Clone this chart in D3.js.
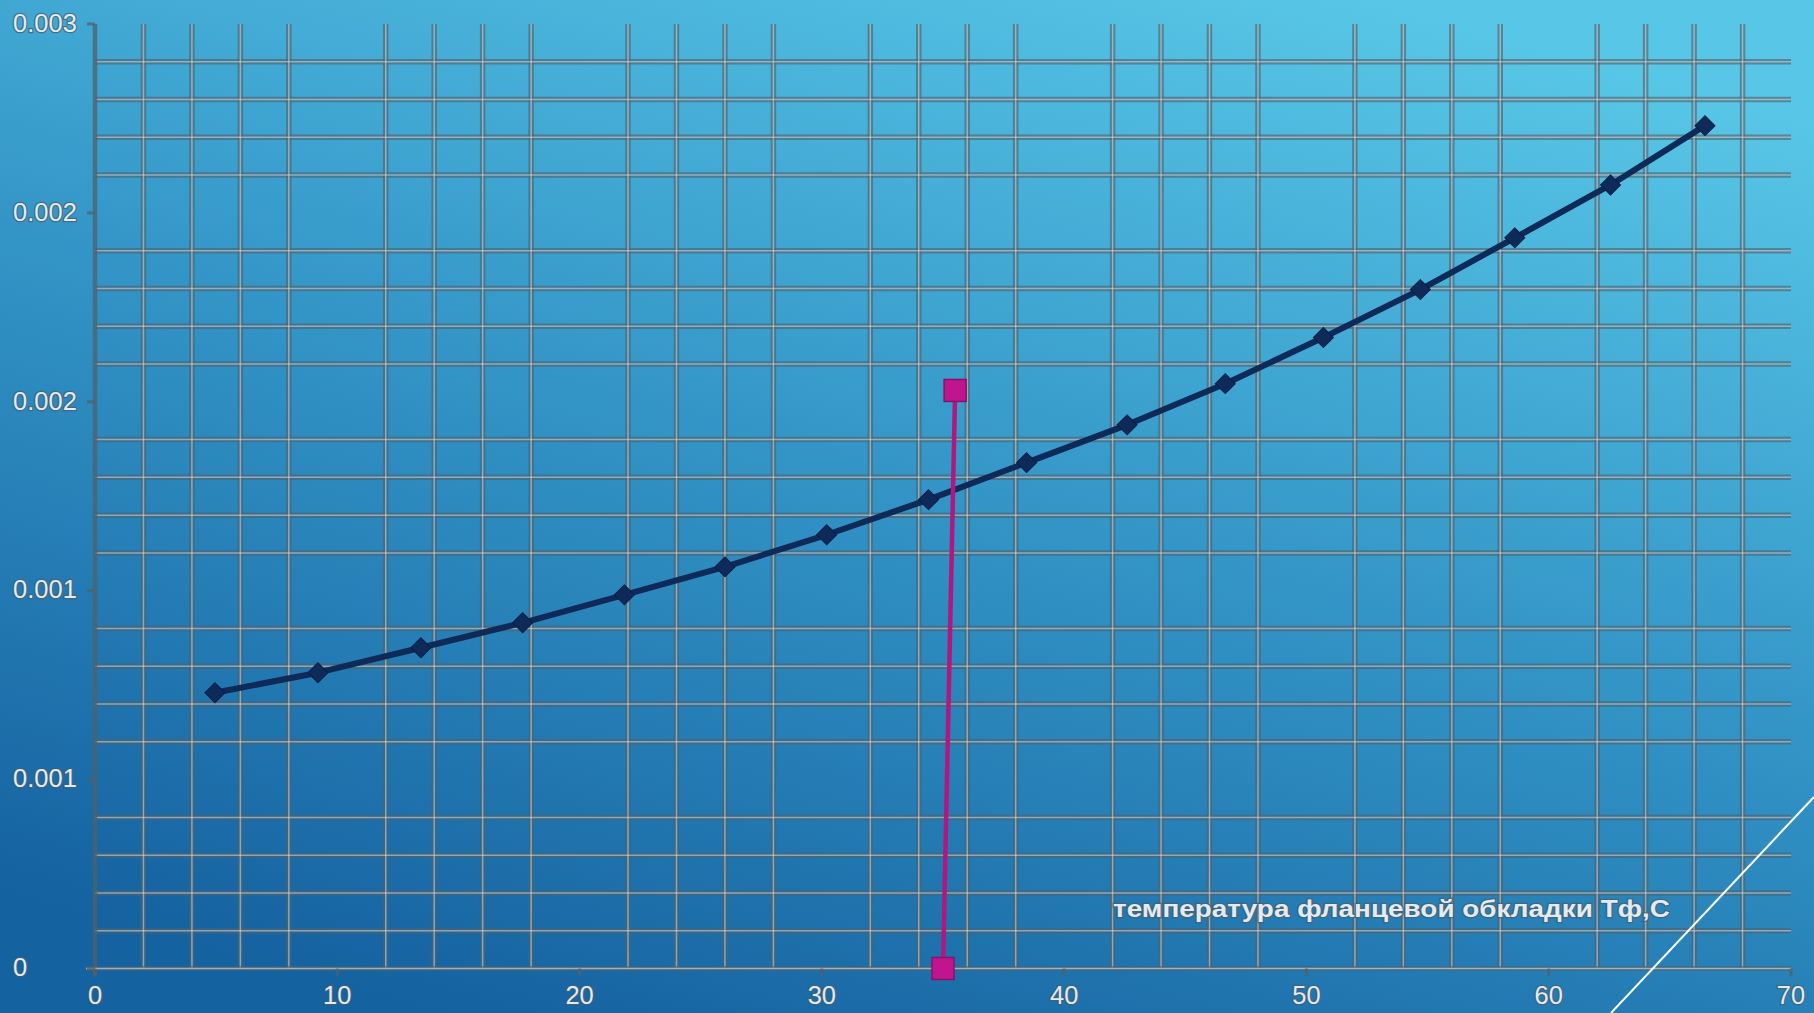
<!DOCTYPE html>
<html>
<head>
<meta charset="utf-8">
<script src="https://cdn.jsdelivr.net/npm/d3@7"></script>
<style>
  html, body { margin: 0; padding: 0; overflow: hidden; }
  svg { display: block; }
  .tick-label { font-family: "Liberation Sans", Arial, sans-serif; font-size: 25.5px; fill: #e4eaee; stroke: rgba(70,95,110,0.75); stroke-width: 2.5px; paint-order: stroke; }
</style>
</head>
<body>
<div id="chart"></div>
<script>
// Data
const temps = [4.95, 9.2, 13.45, 17.65, 21.85, 26.0, 30.2, 34.4, 38.45, 42.6, 46.65, 50.7, 54.7, 58.6, 62.55, 66.45];
const strain = [0.00073, 0.000783, 0.000849, 0.000915, 0.000989, 0.001063, 0.001148, 0.001241, 0.001339, 0.001439, 0.001548, 0.00167, 0.001797, 0.001934, 0.002074, 0.002231];
const markX = [35.0, 35.5];
const markY = [0, 0.00153];
const xTicks = [0, 10, 20, 30, 40, 50, 60, 70];
const yTicks = [0, 0.0005, 0.001, 0.0015, 0.002, 0.0025];
const yTickLabels = ["0", "0.001", "0.001", "0.002", "0.002", "0.003"];
const axisTitle = "температура фланцевой обкладки Тф,С";

const W = 1814, H = 1013;
const margin = {top: 24, right: 23, bottom: 44.5, left: 95};

const svg = d3.select("#chart").append("svg")
  .attr("width", W)
  .attr("height", H);

// Background gradient (slide)
const defs = svg.append("defs");
const grad = defs.append("linearGradient")
  .attr("id", "bg")
  .attr("x1", "0.75").attr("y1", "0")
  .attr("x2", "0.25").attr("y2", "1");
grad.append("stop").attr("offset", "0").attr("stop-color", "#58c6e6");
grad.append("stop").attr("offset", "0.45").attr("stop-color", "#3598c9");
grad.append("stop").attr("offset", "1").attr("stop-color", "#1562a0");
svg.append("rect").attr("width", W).attr("height", H).attr("fill", "url(#bg)");

// Scales
const x = d3.scaleLinear().domain([0, 70]).range([margin.left, W - margin.right]);
const y = d3.scaleLinear().domain([0, 0.0025]).range([H - margin.bottom, margin.top]);

// Minor gridlines only (major positions are left empty)
const xMinor = d3.range(2, 70, 2).filter(v => v % 10 !== 0);
const yMinor = d3.range(1, 25).filter(i => i % 5 !== 0).map(i => i * 0.0001);

const grid = svg.append("g");
function gridLines(width, color) {
  grid.append("g").selectAll("line")
    .data(xMinor).join("line")
    .attr("x1", d => x(d)).attr("x2", d => x(d))
    .attr("y1", y(0.0025)).attr("y2", y(0))
    .attr("stroke", color).attr("stroke-width", width);
  grid.append("g").selectAll("line")
    .data(yMinor).join("line")
    .attr("x1", x(0)).attr("x2", x(70))
    .attr("y1", d => y(d)).attr("y2", d => y(d))
    .attr("stroke", color).attr("stroke-width", width);
}
gridLines(5.5, "rgba(78,98,110,0.62)");
gridLines(1.5, "rgba(225,230,233,0.5)");

// Axes
const axisColor = "rgba(78,98,110,0.75)";
svg.append("line")
  .attr("x1", x(0)).attr("x2", x(0))
  .attr("y1", y(0.0025)).attr("y2", y(0) + 8)
  .attr("stroke", axisColor).attr("stroke-width", 4.5);
svg.append("line")
  .attr("x1", x(0) - 9).attr("x2", x(70))
  .attr("y1", y(0)).attr("y2", y(0))
  .attr("stroke", axisColor).attr("stroke-width", 4.5);
svg.append("line")
  .attr("x1", x(0) - 9).attr("x2", x(70))
  .attr("y1", y(0)).attr("y2", y(0))
  .attr("stroke", "rgba(225,230,233,0.6)").attr("stroke-width", 1.5);

svg.append("g").selectAll("line")
  .data(xTicks).join("line")
  .attr("x1", d => x(d)).attr("x2", d => x(d))
  .attr("y1", y(0)).attr("y2", y(0) + 8)
  .attr("stroke", axisColor).attr("stroke-width", 3);
svg.append("g").selectAll("line")
  .data(yTicks).join("line")
  .attr("x1", x(0) - 8).attr("x2", x(0))
  .attr("y1", d => y(d)).attr("y2", d => y(d))
  .attr("stroke", axisColor).attr("stroke-width", 3);

// Tick labels
svg.append("g").selectAll("text")
  .data(xTicks).join("text")
  .attr("class", "tick-label")
  .attr("x", d => x(d))
  .attr("y", y(0) + 29)
  .attr("dominant-baseline", "middle")
  .attr("text-anchor", "middle")
  .text(d => d);
svg.append("g").selectAll("text")
  .data(yTicks).join("text")
  .attr("class", "tick-label")
  .attr("x", 13)
  .attr("y", d => y(d) + 1)
  .attr("dominant-baseline", "middle")
  .attr("text-anchor", "start")
  .text((d, i) => yTickLabels[i]);

// Axis title inside the plot
svg.append("text")
  .attr("class", "tick-label")
  .attr("x", 1113)
  .attr("y", 911)
  .attr("dominant-baseline", "middle")
  .attr("textLength", 557)
  .attr("lengthAdjust", "spacingAndGlyphs")
  .style("font-size", "24px")
  .style("font-weight", "bold")
  .text(axisTitle);

// Main series
const pts = temps.map((t, i) => ({x: t, y: strain[i]}));
const line = d3.line().x(d => x(d.x)).y(d => y(d.y));
svg.append("path")
  .attr("d", line(pts))
  .attr("fill", "none")
  .attr("stroke", "#0e2a58")
  .attr("stroke-width", 6)
  .attr("stroke-linejoin", "round");
svg.append("g").selectAll("path")
  .data(pts).join("path")
  .attr("d", d3.symbol(d3.symbolSquare, 200))
  .attr("transform", d => `translate(${x(d.x)},${y(d.y)}) rotate(45)`)
  .attr("fill", "#0e2a58")
  .attr("stroke", "#0a2048")
  .attr("stroke-width", 1);

// Vertical marker series
const mk = markX.map((v, i) => ({x: v, y: markY[i]}));
svg.append("path")
  .attr("d", line(mk))
  .attr("fill", "none")
  .attr("stroke", "#b0187f")
  .attr("stroke-width", 4.5);
svg.append("g").selectAll("rect")
  .data(mk).join("rect")
  .attr("x", d => x(d.x) - 11)
  .attr("y", d => y(d.y) - 11)
  .attr("width", 22).attr("height", 22)
  .attr("fill", "#c0158f")
  .attr("stroke", "#8c1068")
  .attr("stroke-width", 1.5);

// Slide decoration line
svg.append("line")
  .attr("x1", W).attr("y1", 797)
  .attr("x2", 1611).attr("y2", H)
  .attr("stroke", "#ffffff").attr("stroke-width", 2);
</script>
</body>
</html>
